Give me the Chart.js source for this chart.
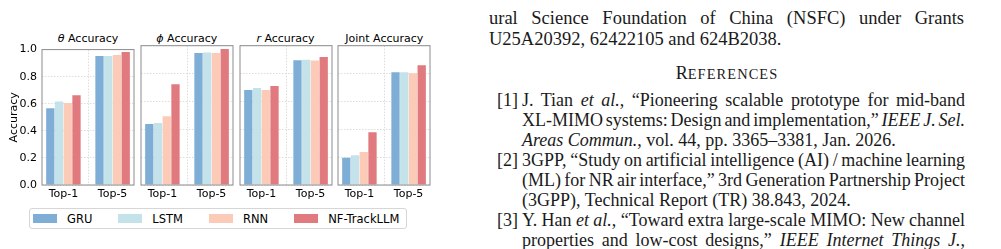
<!DOCTYPE html>
<html>
<head>
<meta charset="utf-8">
<script src="https://cdn.jsdelivr.net/npm/chart.js@4.4.1/dist/chart.umd.min.js"></script>
<style>
  html, body { margin: 0; padding: 0; background: #fff; }
  body { width: 1001px; height: 249px; position: relative; overflow: hidden; }
  canvas { position: absolute; }
  .ptitle { position: absolute; font: 11px "DejaVu Sans"; line-height: 13px; text-align: center; color: #000; white-space: nowrap; }
  #legend { position: absolute; left: 29px; top: 208px; width: 378px; height: 21px; box-sizing: border-box;
            border: 1px solid #d6d6d6; border-radius: 3px; display: flex; align-items: center; padding-left: 3px;
            font: 11.5px "DejaVu Sans"; color: #000; white-space: nowrap; }
  #legend .item { display: flex; align-items: center; margin-right: 26px; }
  #legend .sw { width: 24px; height: 9px; margin-right: 10px; }
  .txt { font-family: "Liberation Serif"; font-size: 18px; line-height: 20px; color: #1a1a1a; }
  .ln { position: absolute; white-space: nowrap; }
  .lab { position: absolute; white-space: nowrap; width: 30px; text-align: right; }
  .ack { font-size: 18.5px; }
</style>
</head>
<body>

<div class="txt">
  <div class="ln j ack" data-w="475" style="left:489px; top:8px">ural Science Foundation of China (NSFC) under Grants</div>
  <div class="ln ack" style="left:489px; top:29px">U25A20392, 62422105 and 624B2038.</div>
  <div class="ln" style="left:627px; width:200px; text-align:center; top:63px">R<span style="font-size:14.4px; letter-spacing:1.1px">EFERENCES</span></div>

  <div class="lab" style="left:488px; top:90px">[1]</div>
  <div class="ln j" data-w="443" style="left:522px; top:90px">J. Tian <i>et al.</i>, “Pioneering scalable prototype for mid-band</div>
  <div class="ln j" data-w="443" style="left:522px; top:110px">XL-MIMO systems: Design and implementation,” <i>IEEE J. Sel.</i></div>
  <div class="ln" style="left:522px; top:130px"><i>Areas Commun.</i>, vol. 44, pp. 3365–3381, Jan. 2026.</div>

  <div class="lab" style="left:488px; top:150px">[2]</div>
  <div class="ln j" data-w="443" style="left:522px; top:150px">3GPP, “Study on artificial intelligence (AI) / machine learning</div>
  <div class="ln j" data-w="443" style="left:522px; top:170px">(ML) for NR air interface,” 3rd Generation Partnership Project</div>
  <div class="ln" style="left:522px; top:190px">(3GPP), Technical Report (TR) 38.843, 2024.</div>

  <div class="lab" style="left:488px; top:210px">[3]</div>
  <div class="ln j" data-w="443" style="left:522px; top:210px">Y. Han <i>et al.</i>, “Toward extra large-scale MIMO: New channel</div>
  <div class="ln j" data-w="443" style="left:522px; top:230px">properties and low-cost designs,” <i>IEEE Internet Things J.</i>,</div>
</div>

<div id="legend"></div>

<script>
const xLabels = ['Top-1', 'Top-5'];
const models = ['GRU', 'LSTM', 'RNN', 'NF-TrackLLM'];
const modelColors = ['#7eaed5', '#c4e2ea', '#fbcbb8', '#e07a7e'];
const panelSymbols = ['θ', 'ϕ', 'r', ''];
const panelNames = ['Accuracy', 'Accuracy', 'Accuracy', 'Joint Accuracy'];
const yTicks = [0, 0.2, 0.4, 0.6, 0.8, 1.0];

// rows: GRU, LSTM, RNN, NF-TrackLLM ; columns: Top-1, Top-5
const thetaAcc = [[0.567, 0.953], [0.617, 0.953], [0.605, 0.960], [0.663, 0.983]];
const phiAcc   = [[0.438, 0.948], [0.445, 0.952], [0.493, 0.948], [0.723, 0.976]];
const rAcc     = [[0.682, 0.895], [0.696, 0.900], [0.682, 0.893], [0.711, 0.919]];
const jointAcc = [[0.196, 0.809], [0.213, 0.809], [0.237, 0.802], [0.378, 0.859]];
const panelData = [thetaAcc, phiAcc, rAcc, jointAcc];

const panelLeft = [42, 140.8, 239.5, 338.3];
const panelWidth = 92;
const font = { family: 'DejaVu Sans', size: 11 };
const gridColor = '#d4d4d4';

// box round each panel, drawn over the bars like the matplotlib spines
const framePlugin = {
  id: 'frame',
  afterDatasetsDraw(chart) {
    const { ctx, chartArea: a } = chart;
    ctx.save();
    ctx.strokeStyle = '#8c8c8c';
    ctx.lineWidth = 1;
    ctx.strokeRect(a.left, a.top, a.right - a.left, a.bottom - a.top);
    ctx.restore();
  }
};

panelData.forEach((rows, p) => {
  const first = p === 0;

  const t = document.createElement('div');
  t.className = 'ptitle';
  t.style.left = panelLeft[p] + 'px';
  t.style.width = panelWidth + 'px';
  t.style.top = '31.5px';
  t.innerHTML = (panelSymbols[p] ? '<i>' + panelSymbols[p] + '</i> ' : '') + panelNames[p];
  document.body.appendChild(t);

  const cv = document.createElement('canvas');
  const left = first ? 0 : panelLeft[p] - 1;
  const w = first ? panelLeft[0] + panelWidth + 1 : panelWidth + 2;
  const h = 167;
  cv.width = w; cv.height = h;
  cv.style.left = left + 'px';
  cv.style.top = '38px';
  cv.style.width = w + 'px';
  cv.style.height = h + 'px';
  document.body.appendChild(cv);

  new Chart(cv, {
    type: 'bar',
    data: {
      datasets: rows.map((vals, m) => ({
        label: models[m],
        data: vals.map((v, i) => ({ x: i, y: v })),
        backgroundColor: modelColors[m],
        borderWidth: 0,
        categoryPercentage: 0.71,
        barPercentage: 0.95
      }))
    },
    options: {
      responsive: false,
      animation: false,
      events: [],
      layout: { padding: { top: 7.7, right: 1, bottom: 0, left: first ? 0 : 1 } },
      plugins: {
        legend: { display: false },
        tooltip: { enabled: false }
      },
      scales: {
        x: {
          type: 'linear',
          offset: false,
          min: -0.435,
          max: 1.435,
          afterBuildTicks: s => { s.ticks = xLabels.map((_, i) => ({ value: i })); },
          afterFit: s => { s.height = 20; },
          grid: { offset: true, color: gridColor, lineWidth: 0.8, drawTicks: false },
          border: { display: false, dash: [1.5, 1.5] },
          ticks: { padding: 2.5, font, color: '#000', maxRotation: 0, autoSkip: false, callback: v => xLabels[v] }
        },
        y: {
          min: 0,
          max: 1,
          afterBuildTicks: s => { s.ticks = yTicks.map(v => ({ value: v })); },
          afterFit: s => { s.width = first ? 42 : 0; },
          grid: { color: gridColor, lineWidth: 0.8, drawTicks: false },
          border: { display: false, dash: [1.5, 1.5] },
          ticks: { display: first, padding: 5, font, color: '#000', callback: v => v.toFixed(1) },
          title: { display: first, text: 'Accuracy', font, color: '#000', padding: { top: 8, bottom: 0 } }
        }
      }
    },
    plugins: [framePlugin]
  });
});

const legend = document.getElementById('legend');
models.forEach((name, m) => {
  const it = document.createElement('div');
  it.className = 'item';
  it.innerHTML = '<span class="sw" style="background:' + modelColors[m] + '"></span><span>' + name + '</span>';
  legend.appendChild(it);
});

function justify() {
  document.querySelectorAll('.j').forEach(el => {
    el.style.wordSpacing = '0px';
    const target = parseFloat(el.dataset.w);
    const width = el.getBoundingClientRect().width;
    const gaps = (el.textContent.match(/ /g) || []).length;
    el.style.wordSpacing = ((target - width) / gaps) + 'px';
  });
}
justify();
if (document.fonts) document.fonts.ready.then(justify);
</script>
</body>
</html>
